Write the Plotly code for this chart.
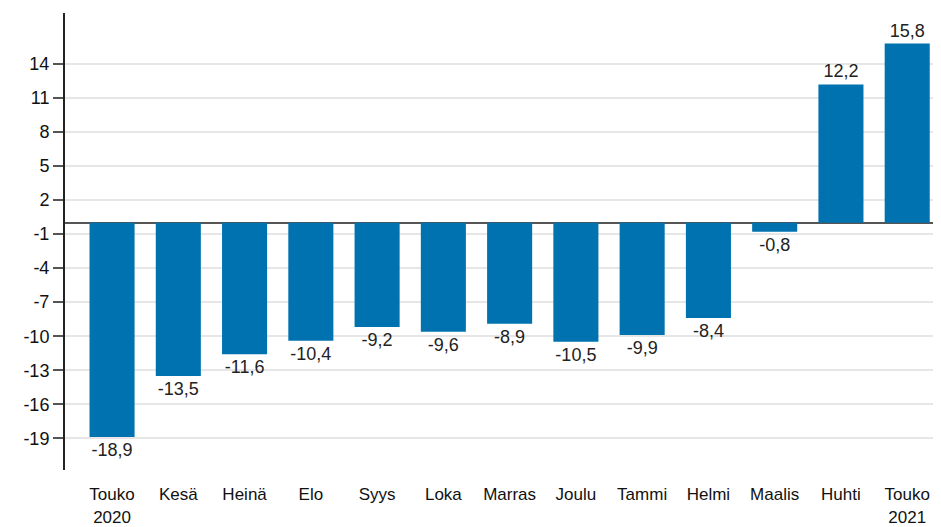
import plotly.graph_objects as go

categories = ["Touko<br>2020", "Kesä", "Heinä", "Elo", "Syys", "Loka", "Marras",
              "Joulu", "Tammi", "Helmi", "Maalis", "Huhti", "Touko<br>2021"]
values = [-18.9, -13.5, -11.6, -10.4, -9.2, -9.6, -8.9, -10.5, -9.9, -8.4, -0.8, 12.2, 15.8]
y_ticks = [14, 11, 8, 5, 2, -1, -4, -7, -10, -13, -16, -19]

labels = [f"{v:.1f}".replace(".", ",") for v in values]
y_ticktext = [str(t) for t in y_ticks]

FONT = "Liberation Sans, Arial, sans-serif"

fig = go.Figure(go.Bar(
    x=list(range(len(categories))),
    y=values,
    text=labels,
    textposition="outside",
    textfont=dict(family=FONT, size=18, color="#222"),
    marker=dict(color="#0072b0", line=dict(width=0)),
    cliponaxis=False,
    hoverinfo="skip",
))

# page body has an 8px margin, so the figure is drawn 8px smaller and the margins shifted
fig.update_layout(
    width=933, height=519,
    margin=dict(l=57, r=0, t=5, b=57),
    plot_bgcolor="white", paper_bgcolor="white",
    bargap=0.32,
    showlegend=False,
    font=dict(family=FONT, size=18, color="#222"),
)

fig.update_xaxes(
    range=[-0.71, 12.51],
    tickmode="array",
    tickvals=list(range(len(categories))),
    ticktext=categories,
    showgrid=False, zeroline=False, showline=False,
    ticks="outside", ticklen=9, tickcolor="rgba(0,0,0,0)",
    tickfont=dict(family=FONT, size=17, color="#111"),
    automargin=False,
)

fig.update_yaxes(
    range=[-21.8, 18.5],
    tickmode="array",
    tickvals=y_ticks,
    ticktext=y_ticktext,
    showgrid=True, gridcolor="#e6e6e6", gridwidth=2,
    zeroline=True, zerolinecolor="#555555", zerolinewidth=2,
    showline=True, linecolor="#222222", linewidth=2,
    ticks="outside", ticklen=10, tickwidth=2, tickcolor="#555555",
    tickfont=dict(family=FONT, size=18, color="#111"),
    automargin=False,
)

fig.write_html("out.html")
